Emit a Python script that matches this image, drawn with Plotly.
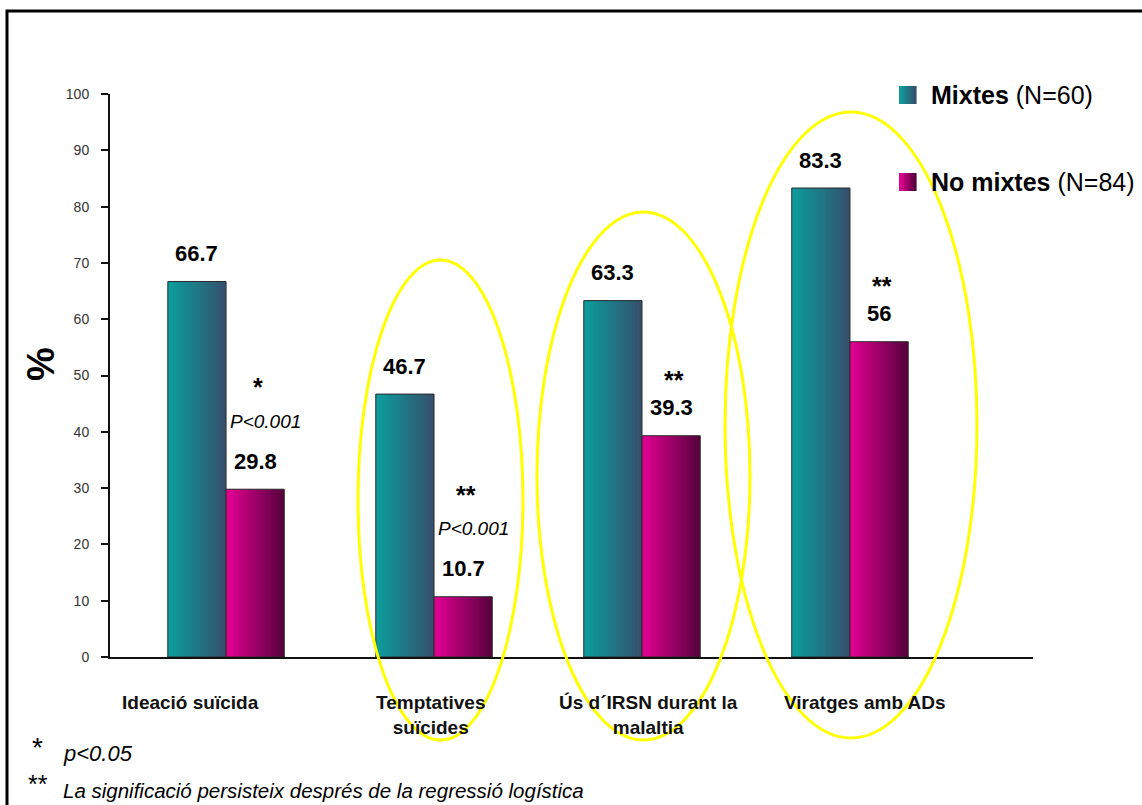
import plotly.graph_objects as go

# ---- data -------------------------------------------------------------
categories = ["Ideació suïcida", "Temptatives<br>suïcides",
              "Ús d´IRSN durant la<br>malaltia", "Viratges amb ADs"]
mixtes = [66.7, 46.7, 63.3, 83.3]
no_mixtes = [29.8, 10.7, 39.3, 56]
signif = ["*", "**", "**", "**"]
p_text = ["P<0.001", "P<0.001", "", ""]
series_names = ["Mixtes", "No mixtes"]
series_n = ["(N=60)", "(N=84)"]
y_ticks = list(range(0, 101, 10))

# ---- geometry helpers (pixel -> paper) --------------------------------
W, H = 1142, 805
L, R, T, B = 110, 109, 94, 148
PW, PH = W - L - R, H - T - B
FONT = "Liberation Sans, Arial"


def px(x):
    return (x - L) / PW


def py(y):
    return (H - B - y) / PH


def lerp(c0, c1, t):
    return "rgb(%d,%d,%d)" % tuple(round(a + (b - a) * t) for a, b in zip(c0, c1))


def note(**kw):
    base = dict(showarrow=False, xanchor="center", yanchor="middle")
    base.update(kw)
    return base


TEAL = ((12, 156, 156), (52, 82, 110))
MAG = ((226, 0, 146), (88, 0, 62))

xpos = list(range(len(categories)))
bw = 0.28
N = 18

fig = go.Figure()

# gradient bars, built from narrow vertical strips
for vals, grad, base in ((mixtes, TEAL, -bw), (no_mixtes, MAG, 0.0)):
    for k in range(N):
        w = bw / N
        fig.add_trace(go.Bar(
            x=xpos, y=vals, width=w * (1.25 if k < N - 1 else 1.0),
            offset=base + k * w, marker_color=lerp(grad[0], grad[1], k / (N - 1)),
            marker_line_width=0, showlegend=False, hoverinfo="skip"))
    fig.add_trace(go.Bar(
        x=xpos, y=vals, width=bw, offset=base,
        marker=dict(color="rgba(0,0,0,0)", line=dict(color="#2a2a2a", width=1)),
        showlegend=False, hoverinfo="skip"))

annotations = []
value_font = dict(family=FONT, size=22, color="black")

for i in xpos:
    # value labels above each bar
    annotations.append(note(x=i - bw / 2, y=mixtes[i], xref="x", yref="y",
                            text="<b>%g</b>" % mixtes[i], yshift=28, font=value_font))
    annotations.append(note(x=i + bw / 2, y=no_mixtes[i], xref="x", yref="y",
                            text="<b>%g</b>" % no_mixtes[i], yshift=28, font=value_font))
    if p_text[i]:
        annotations.append(note(x=i + bw / 2, y=no_mixtes[i], xref="x", yref="y",
                                text="<i>%s</i>" % p_text[i], yshift=68, xshift=10,
                                font=dict(family=FONT, size=19, color="black")))
    annotations.append(note(x=i + bw / 2, y=no_mixtes[i], xref="x", yref="y",
                            text="<b>%s</b>" % signif[i],
                            yshift=102 if p_text[i] else 56, xshift=3,
                            font=dict(family=FONT, size=25, color="black")))

# category labels under the axis
label_shift = [-36, -4, 6, 15]
for i, c in enumerate(categories):
    annotations.append(note(x=i, y=py(690), xref="x", yref="paper", text="<b>%s</b>" % c,
                            xshift=label_shift[i], yanchor="top",
                            font=dict(family=FONT, size=19, color="#111")))

# y axis title
annotations.append(note(x=px(41), y=py(364), xref="paper", yref="paper", text="<b>%</b>",
                        textangle=-90, font=dict(family=FONT, size=38, color="black")))

# legend
shapes = []
for name, n, grad, yc in zip(series_names, series_n, (TEAL, MAG), (95, 182)):
    M = 8
    for k in range(M):
        x0 = 899 + k * 17 / M
        shapes.append(dict(type="rect", xref="paper", yref="paper",
                           x0=px(x0), x1=px(x0 + 17 / M + 0.6), y0=py(yc + 9), y1=py(yc - 9),
                           fillcolor=lerp(grad[0], grad[1], k / (M - 1)), line_width=0))
    annotations.append(note(x=px(929), y=py(yc), xref="paper", yref="paper",
                            xanchor="left", text="<b>%s</b> %s" % (name, n),
                            font=dict(family=FONT, size=25, color="black")))

# footnotes
annotations += [
    note(x=px(30), y=py(748), xref="paper", yref="paper", xanchor="left",
         text="*", font=dict(family=FONT, size=28, color="black")),
    note(x=px(61), y=py(753), xref="paper", yref="paper", xanchor="left",
         text="<i>p<0.05</i>", font=dict(family=FONT, size=22, color="black")),
    note(x=px(26), y=py(784), xref="paper", yref="paper", xanchor="left",
         text="**", font=dict(family=FONT, size=25, color="black")),
    note(x=px(61), y=py(790), xref="paper", yref="paper", xanchor="left",
         text="<i>La significació persisteix després de la regressió logística</i>",
         font=dict(family=FONT, size=20.5, color="black")),
]

# highlight ellipses
for x0, x1, y0, y1 in ((358, 523, 260, 740), (537, 750, 212, 740), (725, 977, 112, 738)):
    shapes.append(dict(type="circle", xref="paper", yref="paper",
                       x0=px(x0), x1=px(x1), y0=py(y1), y1=py(y0),
                       line=dict(color="#FFFF00", width=3)))

# outer frame
shapes.append(dict(type="rect", xref="paper", yref="paper",
                   x0=px(7), x1=px(1170), y0=py(830), y1=py(11),
                   line=dict(color="black", width=3)))

fig.update_layout(
    width=W, height=H, barmode="overlay",
    margin=dict(l=L, r=R, t=T, b=B),
    paper_bgcolor="white", plot_bgcolor="white",
    showlegend=False,
    xaxis=dict(range=[-0.558, 3.88], showticklabels=False, ticks="",
               showline=True, linecolor="#111", linewidth=2, showgrid=False,
               zeroline=False, fixedrange=True),
    yaxis=dict(range=[0, 100], tickvals=y_ticks, ticks="outside", ticklen=7,
               tickwidth=2, tickcolor="#111", showline=True, linecolor="#111",
               linewidth=2, showgrid=False, zeroline=False, ticklabelstandoff=9,
               tickfont=dict(family=FONT, size=14, color="#333")),
    annotations=annotations, shapes=shapes,
)

fig.write_html("out.html")
